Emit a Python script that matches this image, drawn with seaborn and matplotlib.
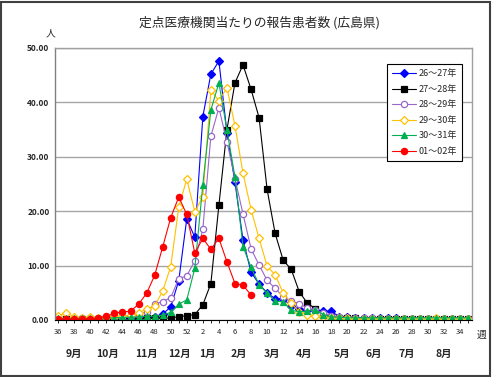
import matplotlib
matplotlib.use("Agg")
import matplotlib.pyplot as plt
import numpy as np
import pandas as pd
import seaborn as sns
from matplotlib.patches import Rectangle

# weeks of the season (36th week -> 35th week of next year)
weeks = list(range(36, 53)) + list(range(1, 36))
months = ["9月", "10月", "11月", "12月", "1月", "2月", "3月", "4月", "5月", "6月", "7月", "8月"]
month_pos = [2.0, 6.1, 11.0, 15.1, 18.6, 22.5, 26.6, 30.6, 35.3, 39.3, 43.4, 48.0]

s26_27 = [0.1, 0.1, 0.1, 0.1, 0.1, 0.2, 0.2, 0.2, 0.3, 0.3, 0.4, 0.5, 0.6, 1.1, 2.4, 7.2, 18.6,
          15.2, 37.4, 45.2, 47.6, 34.4, 25.3, 14.7, 8.8, 6.6, 5.0, 3.9, 3.9, 2.5, 2.0, 1.8, 1.8,
          1.6, 1.6, 0.6, 0.5, 0.4, 0.4, 0.3, 0.3, 0.3, 0.3, 0.2, 0.2, 0.2, 0.2, 0.2, 0.2, 0.2,
          0.2, 0.2]
s27_28 = [0.1, 0.1, 0.1, 0.1, 0.1, 0.1, 0.1, 0.1, 0.2, 0.2, 0.2, 0.3, 0.3, 0.3, 0.4, 0.6, 0.8,
          1.0, 2.8, 6.7, 21.1, 35.0, 43.6, 46.9, 42.4, 37.2, 24.0, 15.9, 11.0, 9.3, 5.2, 3.1, 2.1,
          0.9, 0.6, 0.4, 0.3, 0.3, 0.2, 0.2, 0.2, 0.2, 0.1, 0.1, 0.1, 0.1, 0.1, 0.1, 0.1, 0.1,
          0.1, 0.1]
s28_29 = [0.2, 0.2, 0.2, 0.3, 0.3, 0.4, 0.4, 0.5, 0.6, 0.8, 1.0, 1.5, 2.9, 3.4, 4.1, 7.6, 8.1,
          10.9, 16.7, 33.8, 39.0, 32.8, 26.0, 19.5, 13.1, 10.1, 7.3, 5.8, 4.3, 3.5, 3.0, 2.2, 1.8,
          1.2, 0.8, 0.5, 0.4, 0.3, 0.3, 0.3, 0.2, 0.2, 0.2, 0.2, 0.2, 0.2, 0.2, 0.2, 0.2, 0.2,
          0.2, 0.2]
s29_30 = [0.8, 1.3, 0.6, 0.4, 0.6, 0.4, 0.5, 0.6, 0.7, 0.9, 1.3, 2.0, 2.6, 5.3, 9.8, 20.7, 25.9,
          19.9, 22.6, 42.2, 40.3, 42.7, 35.7, 27.0, 20.3, 15.0, 9.9, 8.3, 5.0, 3.1, 1.5, 1.0, 0.8,
          0.5, 0.4, 0.3, 0.3, 0.2, 0.2, 0.2, 0.2, 0.2, 0.2, 0.2, 0.2, 0.2, 0.2, 0.3, 0.2, 0.2,
          0.2, 0.2]
s30_31 = [0.3, 0.3, 0.3, 0.3, 0.3, 0.3, 0.4, 0.4, 0.5, 0.5, 0.6, 0.7, 0.7, 0.9, 1.4, 2.9, 3.7,
          9.5, 24.9, 38.6, 43.6, 34.9, 26.3, 13.5, 9.7, 6.5, 4.9, 3.5, 3.3, 1.8, 1.5, 1.6, 1.9,
          1.0, 0.6, 0.5, 0.4, 0.4, 0.4, 0.4, 0.4, 0.4, 0.4, 0.4, 0.4, 0.4, 0.4, 0.4, 0.4, 0.4,
          0.4, 0.4]
s01_02 = [0.2, 0.2, 0.1, 0.2, 0.2, 0.4, 0.7, 1.2, 1.5, 1.6, 2.9, 4.9, 8.2, 13.4, 18.8, 22.6,
          19.4, 12.3, 15.0, 13.0, 15.0, 10.7, 6.7, 6.4, 4.6]

series = [
    ("26〜27年", s26_27, "#0000FF", "D", "#0000FF"),
    ("27〜28年", s27_28, "#000000", "s", "#000000"),
    ("28〜29年", s28_29, "#9966CC", "o", "white"),
    ("29〜30年", s29_30, "#FFC000", "D", "white"),
    ("30〜31年", s30_31, "#00B050", "^", "#00B050"),
    ("01〜02年", s01_02, "#FF0000", "o", "#FF0000"),
]

sns.set_theme(style="white")
plt.rcParams['font.family'] = ['Noto Sans CJK JP', 'DejaVu Sans']

fig = plt.figure(figsize=(4.92, 3.77), dpi=100)
ax = fig.add_axes([0.1118, 0.1512, 0.8475, 0.7215])

for name, vals, col, mk, face in series:
    df = pd.DataFrame({"pos": np.arange(len(vals)), "val": vals})
    sns.lineplot(data=df, x="pos", y="val", ax=ax, color=col, marker=mk, label=name,
                 linewidth=0.8, markersize=4.5 if mk != "D" else 4,
                 markerfacecolor=face, markeredgecolor=col, markeredgewidth=0.9)

ax.set_xlim(-0.4, len(weeks) - 0.5)
ax.set_ylim(0, 50)
ax.set_yticks(np.arange(0, 51, 10))
ax.set_yticklabels([f"{v:.2f}" for v in np.arange(0, 51, 10)], fontsize=6, fontweight="bold")
ax.yaxis.grid(True, color="#A6A6A6", linewidth=1)
ax.xaxis.grid(False)
ax.set_xticks(np.arange(len(weeks)))
ax.set_xticklabels([str(w) if i % 2 == 0 else "" for i, w in enumerate(weeks)], fontsize=5.5)
ax.tick_params(axis="x", length=2.5, width=0.6, color="black", pad=3, direction="out", bottom=True)
ax.tick_params(axis="y", length=0, pad=4)
ax.set_xlabel("")
ax.set_ylabel("")
for sp in ["left", "top", "right"]:
    ax.spines[sp].set_color("#A0A0A0")
    ax.spines[sp].set_linewidth(1)
ax.spines["left"].set_color("#808080")
ax.spines["bottom"].set_color("black")
ax.spines["bottom"].set_linewidth(0.8)

handles, labels = ax.get_legend_handles_labels()
leg = ax.legend(handles, labels, loc="upper right", bbox_to_anchor=(0.988, 0.958),
                fontsize=6.5, frameon=True, fancybox=False, edgecolor="black", framealpha=1,
                handlelength=2.6, labelspacing=0.72, borderpad=0.6, handletextpad=0.3)
leg.get_frame().set_linewidth(0.8)

fig.text(0.528, 0.94, "定点医療機関当たりの報告患者数 (広島県)", ha="center", va="center", fontsize=9.2)
fig.text(0.102, 0.912, "人", ha="center", va="center", fontsize=7)
fig.text(0.978, 0.112, "週", ha="center", va="center", fontsize=7)
for m, p in zip(months, month_pos):
    ax.text(p, -0.125, m, transform=ax.get_xaxis_transform(), ha="center", va="center",
            fontsize=7.5, fontweight="bold")

fig.patches.append(Rectangle((0.003, 0.003), 0.993, 0.993, transform=fig.transFigure,
                             fill=False, edgecolor="#404040", linewidth=1.5))

fig.savefig("out.png", dpi=100)
